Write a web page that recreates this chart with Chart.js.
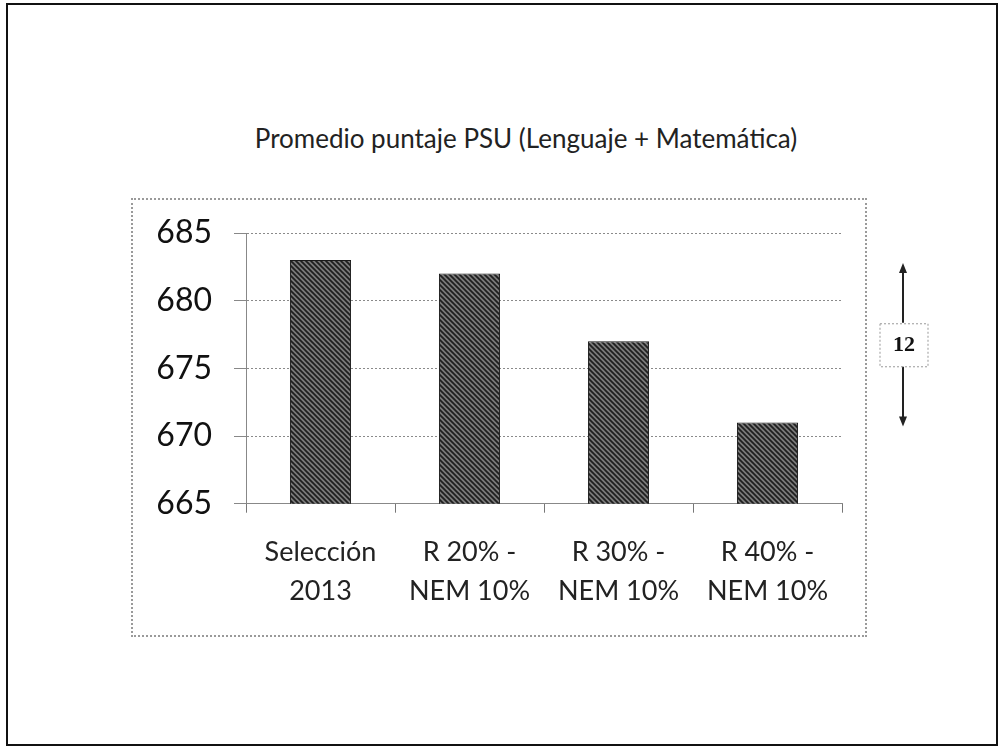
<!DOCTYPE html>
<html>
<head>
<meta charset="utf-8">
<script src="https://cdn.jsdelivr.net/npm/chart.js@4.4.1/dist/chart.umd.min.js"></script>
<style>
    html, body { margin: 0; padding: 0; background: #fff; }
    #wrap { position: relative; width: 1007px; height: 755px; }
    #page { position: absolute; left: 6px; top: 3px; width: 992px; height: 743px; border: 2px solid #111; box-sizing: border-box; }
    #box { position: absolute; left: 131px; top: 198px; width: 736px; height: 439px; border: 2px dotted #9a9a9a; box-sizing: border-box; }
    #title { position: absolute; left: 226px; top: 122px; width: 600px; text-align: center; font: 26px Lato, "Open Sans", sans-serif; color: #222; white-space: nowrap; }
    canvas { position: absolute; left: 0; top: 0; }
</style>
</head>
<body>
<div id="wrap">
    <div id="page"></div>
    <div id="box"></div>
    <div id="title">Promedio puntaje PSU (Lenguaje + Matemática)</div>
    <canvas id="bar-chart" width="1007" height="755"></canvas>
</div>
<script>
var aCategories = [["Selección", "2013"], ["R 20% -", "NEM 10%"], ["R 30% -", "NEM 10%"], ["R 40% -", "NEM 10%"]];
var aScores = [683, 682, 677, 671];
var aTicks = [665, 670, 675, 680, 685];

// hatched dark grey fill like the scanned bars
function makeHatch() {
    var c = document.createElement('canvas');
    c.width = 5; c.height = 5;
    var g = c.getContext('2d');
    g.fillStyle = '#7a7a7a';
    g.fillRect(0, 0, 5, 5);
    g.strokeStyle = '#1e1e1e';
    g.lineWidth = 1.7;
    g.beginPath();
    g.moveTo(-1, -1); g.lineTo(6, 6);
    g.moveTo(-3, 2); g.lineTo(3, 8);
    g.moveTo(2, -3); g.lineTo(8, 3);
    g.stroke();
    return g.createPattern(c, 'repeat');
}

// double arrow with the gap between the highest and lowest bar
var gapArrow = {
    id: 'gapArrow',
    afterDraw: function(chart) {
        var ctx = chart.ctx;
        var y = chart.scales.y;
        var hi = Math.max.apply(null, aScores);
        var lo = Math.min.apply(null, aScores);
        var y1 = y.getPixelForValue(hi) + 3;
        var y2 = y.getPixelForValue(lo) + 4;
        var x = 903;
        var mid = (y1 + y2) / 2;
        ctx.save();
        ctx.strokeStyle = '#222';
        ctx.fillStyle = '#222';
        ctx.lineWidth = 2;
        ctx.beginPath();
        ctx.moveTo(x, y1 + 4); ctx.lineTo(x, mid - 22);
        ctx.moveTo(x, mid + 22); ctx.lineTo(x, y2 - 4);
        ctx.stroke();
        ctx.beginPath();
        ctx.moveTo(x, y1); ctx.lineTo(x - 4, y1 + 10); ctx.lineTo(x + 4, y1 + 10); ctx.closePath();
        ctx.moveTo(x, y2); ctx.lineTo(x - 4, y2 - 10); ctx.lineTo(x + 4, y2 - 10); ctx.closePath();
        ctx.fill();
        ctx.strokeStyle = '#999';
        ctx.lineWidth = 1;
        ctx.setLineDash([2, 2]);
        ctx.strokeRect(x - 23, mid - 21, 48, 43);
        ctx.setLineDash([]);
        ctx.fillStyle = '#111';
        ctx.font = 'bold 22px "Liberation Serif", serif';
        ctx.textAlign = 'center';
        ctx.textBaseline = 'middle';
        ctx.fillText(String(hi - lo), x + 1, mid + 1);
        ctx.restore();
    }
};

new Chart(document.getElementById('bar-chart'), {
    type: 'bar',
    data: {
        labels: aCategories,
        datasets: [{
            label: 'Promedio',
            data: aScores,
            backgroundColor: makeHatch(),
            borderColor: '#1a1a1a',
            borderWidth: 1,
            barPercentage: 0.41,
            categoryPercentage: 1
        }]
    },
    options: {
        responsive: false,
        animation: false,
        layout: { padding: { left: 146, right: 165, top: 233, bottom: 124 } },
        plugins: {
            legend: { display: false },
            tooltip: { enabled: false },
            title: { display: false }
        },
        scales: {
            x: {
                offset: true,
                grid: { display: true, drawOnChartArea: false, offset: true, tickLength: 9, color: '#777', tickWidth: 1 },
                border: { display: true, color: '#888', width: 1, dash: [2, 2] },
                ticks: { color: '#222', padding: 20, font: { family: 'Lato', size: 27, lineHeight: 1.45 }, maxRotation: 0 }
            },
            y: {
                min: 665,
                max: 685,
                afterFit: function(s) { s.width = 100; },
                afterBuildTicks: function(s) { s.ticks = aTicks.map(function(v) { return { value: v }; }); },
                grid: { color: '#8a8a8a', tickLength: 12, tickColor: '#888' },
                border: { display: true, color: '#888', width: 1, dash: [2, 2] },
                ticks: { color: '#111', padding: 22, font: { family: 'Lato', size: 32 } }
            }
        }
    },
    plugins: [gapArrow]
});
</script>
</body>
</html>
